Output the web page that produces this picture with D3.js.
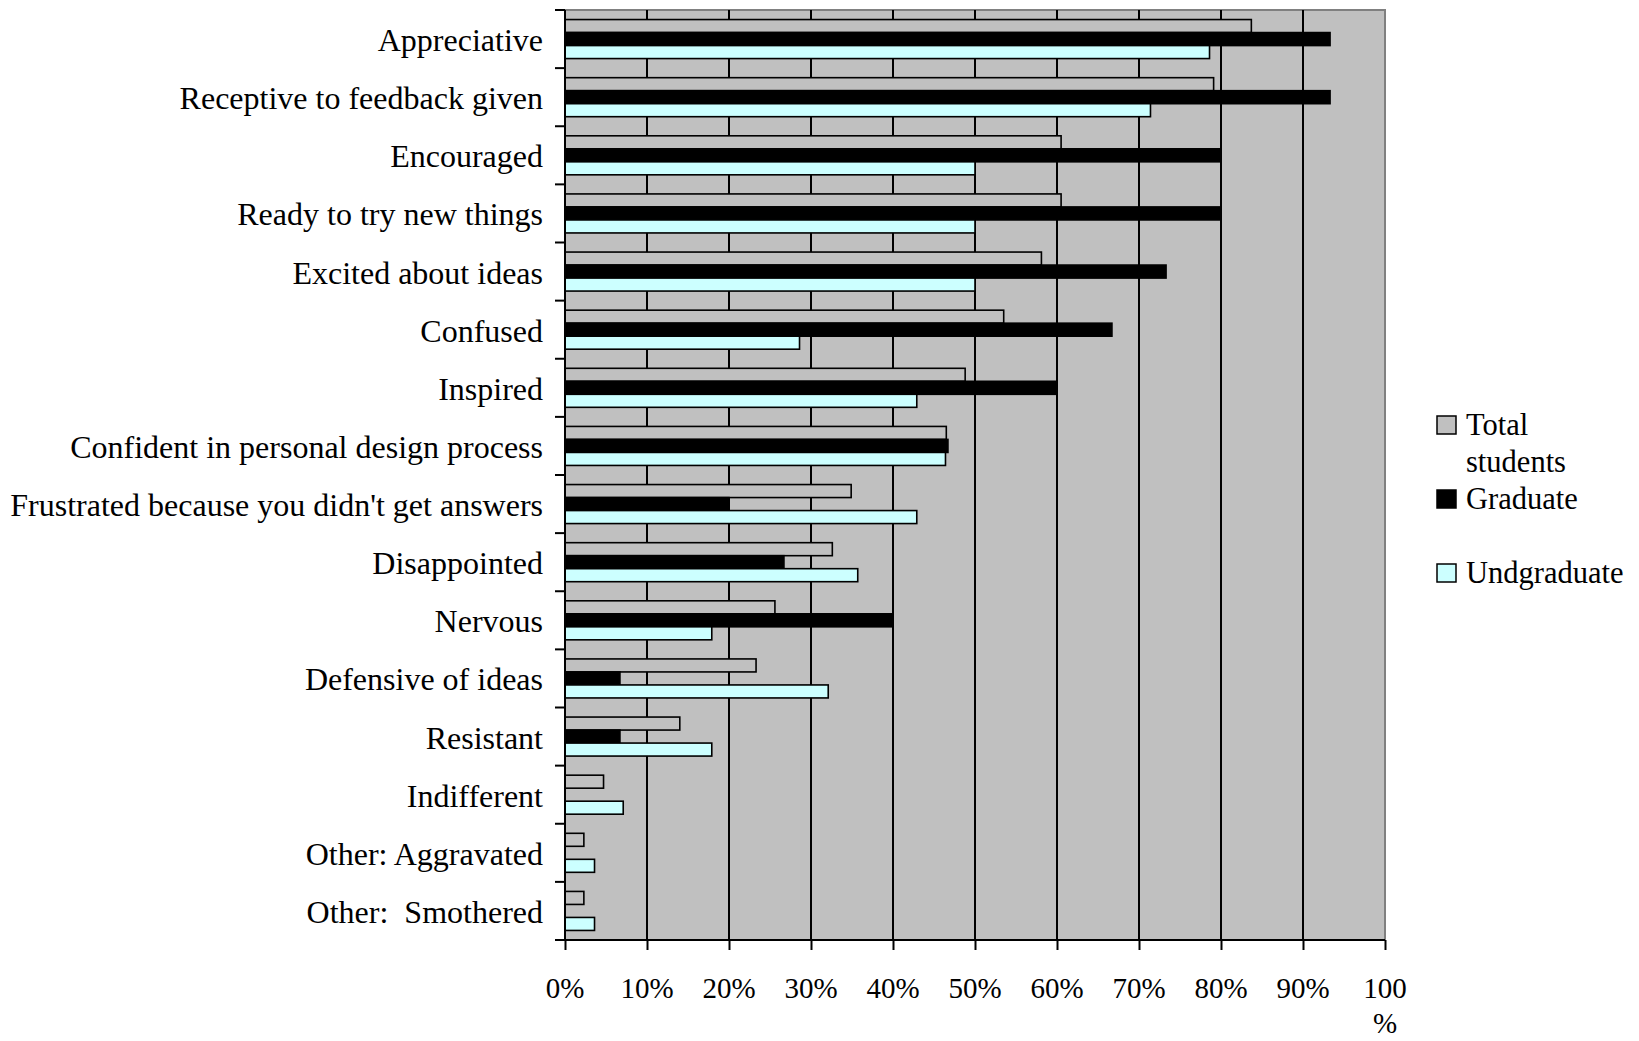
<!DOCTYPE html>
<html>
<head>
<meta charset="utf-8">
<script src="https://cdn.jsdelivr.net/npm/d3@7"></script>
<style>
  html, body { margin: 0; padding: 0; background: #fff; }
  svg { display: block; font-family: "Liberation Serif", "Times New Roman", serif; }
  svg text { white-space: pre; }
</style>
</head>
<body>
<svg id="chart" width="1639" height="1041"></svg>
<script>
// Student reactions to critique, percent of respondents
const categories = [
  "Appreciative",
  "Receptive to feedback given",
  "Encouraged",
  "Ready to try new things",
  "Excited about ideas",
  "Confused",
  "Inspired",
  "Confident in personal design process",
  "Frustrated because you didn't get answers",
  "Disappointed",
  "Nervous",
  "Defensive of ideas",
  "Resistant",
  "Indifferent",
  "Other: Aggravated",
  "Other:  Smothered"
];
const totalStudents = [83.7, 79.1, 60.5, 60.5, 58.1, 53.5, 48.8, 46.5, 34.9, 32.6, 25.6, 23.3, 14.0, 4.7, 2.3, 2.3];
const graduate      = [93.3, 93.3, 80.0, 80.0, 73.3, 66.7, 60.0, 46.7, 20.0, 26.7, 40.0, 6.7, 6.7, 0, 0, 0];
const undergraduate = [78.6, 71.4, 50.0, 50.0, 50.0, 28.6, 42.9, 46.4, 42.9, 35.7, 17.9, 32.1, 17.9, 7.1, 3.6, 3.6];
const seriesNames = ["Total students", "Graduate", "Undgraduate"];
const tickValues = [0, 10, 20, 30, 40, 50, 60, 70, 80, 90, 100];
const tickLabels = ["0%", "10%", "20%", "30%", "40%", "50%", "60%", "70%", "80%", "90%", "100%"];

const seriesData = [totalStudents, graduate, undergraduate];
const fills = ["#c0c0c0", "#000000", "#ccffff"];

const svg = d3.select("#chart");
const plot = { left: 565, right: 1385, top: 10, bottom: 940 };

const x = d3.scaleLinear().domain([0, 100]).range([plot.left, plot.right]);
const y = d3.scaleBand().domain(categories).range([plot.top, plot.bottom]).padding(0);
const ySub = d3.scaleBand().domain(seriesNames).range([0, y.bandwidth()])
  .paddingInner(0).paddingOuter(0.735);

// plot area
svg.append("rect")
  .attr("x", plot.left).attr("y", plot.top)
  .attr("width", plot.right - plot.left).attr("height", plot.bottom - plot.top)
  .attr("fill", "#c0c0c0");
// top and right frame
svg.append("path")
  .attr("d", `M${plot.left},${plot.top}H${plot.right}V${plot.bottom}`)
  .attr("fill", "none").attr("stroke", "#808080").attr("stroke-width", 2);

// vertical gridlines
svg.append("g").selectAll("line")
  .data(tickValues.filter(v => v > 0 && v < 100))
  .join("line")
  .attr("x1", d => x(d)).attr("x2", d => x(d))
  .attr("y1", plot.top).attr("y2", plot.bottom)
  .attr("stroke", "#000").attr("stroke-width", 2);

// bars
const rows = categories.map((c, i) => ({ c, vals: seriesData.map((s, k) => ({ name: seriesNames[k], v: s[i], k })) }));
const groups = svg.append("g").selectAll("g")
  .data(rows).join("g")
  .attr("transform", d => `translate(0,${y(d.c)})`);
groups.selectAll("rect")
  .data(d => d.vals.filter(e => e.v > 0))
  .join("rect")
  .attr("x", x(0))
  .attr("y", e => ySub(e.name))
  .attr("width", e => x(e.v) - x(0))
  .attr("height", ySub.bandwidth())
  .attr("fill", e => fills[e.k])
  .attr("stroke", "#000")
  .attr("stroke-width", 1.6);

// left axis with ticks at category boundaries
const boundaries = d3.range(categories.length + 1).map(i => plot.top + i * y.step());
const leftAxis = svg.append("g");
leftAxis.append("line")
  .attr("x1", plot.left).attr("x2", plot.left)
  .attr("y1", plot.top).attr("y2", plot.bottom + 1)
  .attr("stroke", "#000").attr("stroke-width", 2);
leftAxis.selectAll("line.tick")
  .data(boundaries).join("line").attr("class", "tick")
  .attr("x1", plot.left - 10).attr("x2", plot.left)
  .attr("y1", d => d).attr("y2", d => d)
  .attr("stroke", "#000").attr("stroke-width", 2);
leftAxis.selectAll("text")
  .data(categories).join("text")
  .attr("x", 543)
  .attr("y", d => y(d) + y.bandwidth() / 2 + 12)
  .attr("text-anchor", "end")
  .attr("font-size", 32)
  .attr("fill", "#000")
  .text(d => d);

// bottom axis
const xAxis = d3.axisBottom(x).tickValues(tickValues).tickSize(10).tickFormat("");
const gx = svg.append("g").attr("transform", `translate(0,${plot.bottom})`).call(xAxis);
gx.select(".domain").attr("stroke", "#000").attr("stroke-width", 2)
  .attr("d", `M${plot.left - 10},0H${plot.right}`);
gx.selectAll(".tick line").attr("stroke", "#000").attr("stroke-width", 2);

const tickText = svg.append("g").selectAll("text")
  .data(tickValues).join("text")
  .attr("x", d => x(d))
  .attr("y", 998)
  .attr("text-anchor", "middle")
  .attr("font-size", 29)
  .attr("fill", "#000");
tickText.each(function(d, i) {
  const t = d3.select(this);
  const lab = tickLabels[i];
  if (d === 100) {
    // the last label wraps onto a second line
    t.append("tspan").attr("x", x(d)).text(lab.slice(0, -1));
    t.append("tspan").attr("x", x(d)).attr("dy", 35).text(lab.slice(-1));
  } else {
    t.text(lab);
  }
});

// legend
const legend = svg.append("g");
const legendItems = [
  { k: 0, lines: ["Total", "students"], top: 416 },
  { k: 1, lines: ["Graduate"], top: 490 },
  { k: 2, lines: ["Undgraduate"], top: 564 }
];
legendItems.forEach(item => {
  legend.append("rect")
    .attr("x", 1437).attr("y", item.top)
    .attr("width", 19).attr("height", 18)
    .attr("fill", fills[item.k])
    .attr("stroke", "#000").attr("stroke-width", 1.5);
  const t = legend.append("text")
    .attr("x", 1466).attr("y", item.top + 19)
    .attr("font-size", 30.5).attr("fill", "#000");
  item.lines.forEach((ln, j) => {
    t.append("tspan").attr("x", 1466).attr("dy", j === 0 ? 0 : 37).text(ln);
  });
});
</script>
</body>
</html>
